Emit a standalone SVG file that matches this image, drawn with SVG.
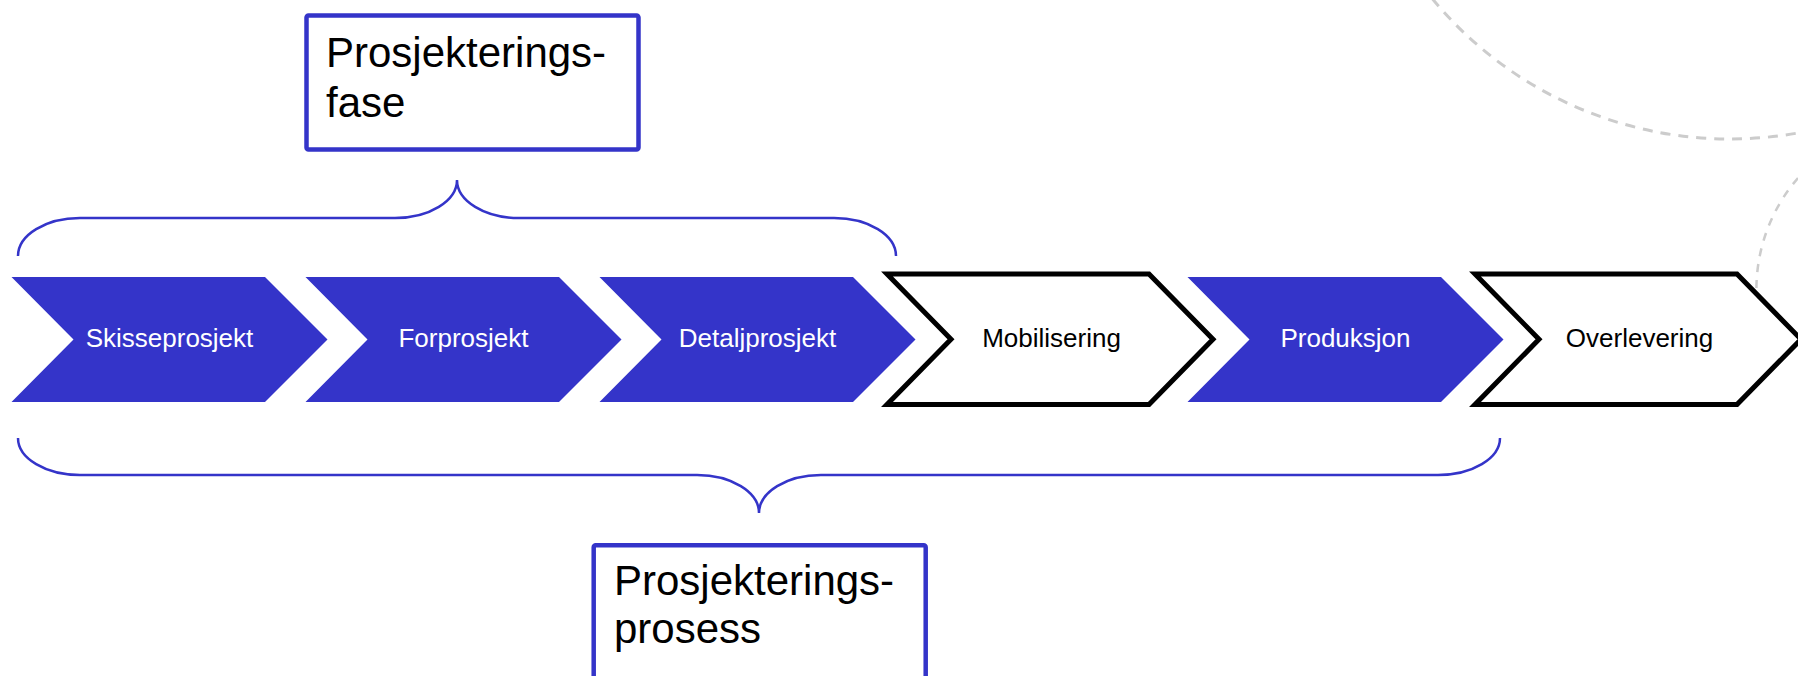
<svg xmlns="http://www.w3.org/2000/svg" width="1798" height="676" viewBox="0 0 1798 676">
<style>
.bg{fill:#ffffff}
.deco{fill:none;stroke:#cccccc;stroke-width:3;stroke-dasharray:10 8}
.deco2{fill:none;stroke:#cccccc;stroke-width:2.5;stroke-dasharray:8 8}
.blue{fill:#3434c9}
.outl{fill:#ffffff;stroke:#000000;stroke-width:5;stroke-linejoin:miter}
.brace{fill:none;stroke:#3434c9;stroke-width:2.5}
.box{fill:#ffffff;stroke:#3434c9;stroke-width:4.5}
.lbl{font-family:"Liberation Sans",Arial,sans-serif;font-size:26px;text-anchor:middle}
.w{fill:#ffffff}
.k{fill:#000000}
.big{font-family:"Liberation Sans",Arial,sans-serif;font-size:42px;fill:#000000}
</style>
<rect class="bg" x="0" y="0" width="1798" height="676"/>
<g id="decoration">
<circle class="deco" cx="1730" cy="-247" r="386"/>
<path class="deco2" d="M1798,178 A170,170 0 0 0 1756.5,295"/>
</g>
<g id="connectors">
<path id="brace-top" class="brace" d="M18,256 A62,38 0 0 1 80,218 L395,218 A62,38 0 0 0 457,180 A62,38 0 0 0 519,218 L834,218 A62,38 0 0 1 896,256"/>
<path id="brace-bottom" class="brace" d="M18,438 A62,37 0 0 0 80,475 L697,475 A62,38 0 0 1 759,513 A62,38 0 0 1 821,475 L1438,475 A62,37 0 0 0 1500,438"/>
</g>
<g id="n-skisseprosjekt">
<polygon class="blue" points="11.5,277 265,277 327.5,339.5 265,402 11.5,402 73.5,339.5"/>
<text class="lbl w" x="169.5" y="347">Skisseprosjekt</text>
</g>
<g id="n-forprosjekt">
<polygon class="blue" points="305.5,277 559,277 621.5,339.5 559,402 305.5,402 367.5,339.5"/>
<text class="lbl w" x="463.5" y="347">Forprosjekt</text>
</g>
<g id="n-detaljprosjekt">
<polygon class="blue" points="599.5,277 853,277 915.5,339.5 853,402 599.5,402 661.5,339.5"/>
<text class="lbl w" x="757.5" y="347">Detaljprosjekt</text>
</g>
<g id="n-mobilisering">
<polygon class="outl" points="887,274 1149,274 1213,339.3 1149,404.5 887,404.5 951,339.3"/>
<text class="lbl k" x="1051.5" y="347">Mobilisering</text>
</g>
<g id="n-produksjon">
<polygon class="blue" points="1187.5,277 1441,277 1503.5,339.5 1441,402 1187.5,402 1249.5,339.5"/>
<text class="lbl w" x="1345.5" y="347">Produksjon</text>
</g>
<g id="n-overlevering">
<polygon class="outl" points="1475,274 1737,274 1801,339.3 1737,404.5 1475,404.5 1539,339.3"/>
<text class="lbl k" x="1639.5" y="347">Overlevering</text>
</g>
<g id="n-prosjekteringsfase">
<rect class="box" x="306.5" y="15.5" width="332" height="134" rx="2"/>
<text class="big" x="326" y="67">Prosjekterings-</text>
<text class="big" x="326" y="117">fase</text>
</g>
<g id="n-prosjekteringsprosess">
<rect class="box" x="593.7" y="545.3" width="332" height="160" rx="2"/>
<text class="big" x="614" y="595">Prosjekterings-</text>
<text class="big" x="614" y="643">prosess</text>
</g>
</svg>
